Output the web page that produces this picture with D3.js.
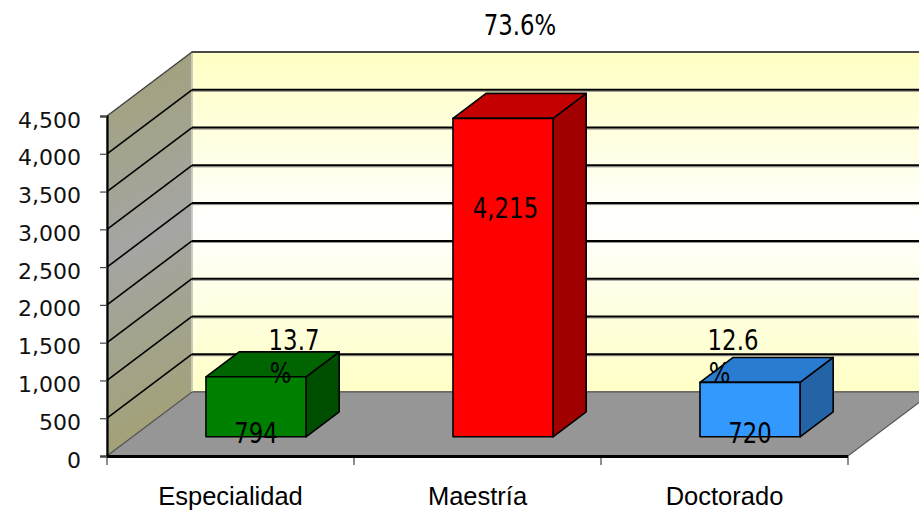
<!DOCTYPE html>
<html><head><meta charset="utf-8">
<script src="https://cdn.jsdelivr.net/npm/d3@7/dist/d3.min.js"></script>
<style>html,body{margin:0;padding:0;background:#fff;}svg{display:block;}</style>
</head><body>
<script>
// ---- data ----
const categories = ["Especialidad", "Maestría", "Doctorado"];
const values = [794, 4215, 720];
const valueLabels = ["794", "4,215", "720"];
const pctLabels = ["13.7 %", "73.6%", "12.6 %"];
const yTicks = [0, 500, 1000, 1500, 2000, 2500, 3000, 3500, 4000, 4500];

// ---- style / layout ----
const W = 919, H = 511;
const X0 = 107, X1 = 848, YB = 456, YT = 116;
const DX = 85, DY = -64;             // full depth offset
const F0 = 0.30, F1 = 0.69;          // bar depth position (fraction)
const faceColors = [
  {front: "#008000", top: "#006400", side: "#004f00"},
  {front: "#ff0000", top: "#c40000", side: "#a00000"},
  {front: "#3399ff", top: "#2a7bd2", side: "#2464a6"}
];
// percent label offsets relative to bar front top centre (style)
const pctOffset = [{dx: 38, dy: -27}, {dx: 17, dy: -83}, {dx: -17, dy: -32}];

const svg = d3.select("body").append("svg").attr("width", W).attr("height", H);
const defs = svg.append("defs");
const lw = defs.append("linearGradient").attr("id", "leftWall")
  .attr("x1", 0).attr("y1", 0).attr("x2", 0.1).attr("y2", 1);
lw.append("stop").attr("offset", "0%").attr("stop-color", "#a2a176");
lw.append("stop").attr("offset", "50%").attr("stop-color", "#a5a5a4");
lw.append("stop").attr("offset", "100%").attr("stop-color", "#a2a176");
const bw = defs.append("linearGradient").attr("id", "backWall")
  .attr("x1", 0).attr("y1", 0).attr("x2", 0).attr("y2", 1);
bw.append("stop").attr("offset", "0%").attr("stop-color", "#ffffc2");
bw.append("stop").attr("offset", "50%").attr("stop-color", "#ffffff");
bw.append("stop").attr("offset", "100%").attr("stop-color", "#ffffc6");

const x = d3.scaleBand().domain(categories).range([X0, X1]);
const y = d3.scaleLinear().domain([0, 4500]).range([YB, YT]);
const yMax = y(4500);

const pts = a => a.map(p => p.join(",")).join(" ");

// left wall
svg.append("polygon")
  .attr("points", pts([[X0, y(0)], [X0, yMax], [X0 + DX, yMax + DY], [X0 + DX, y(0) + DY]]))
  .attr("fill", "url(#leftWall)").attr("stroke", "#666").attr("stroke-width", 1);
// back wall
svg.append("polygon")
  .attr("points", pts([[X0 + DX, y(0) + DY], [X0 + DX, yMax + DY], [X1 + DX, yMax + DY], [X1 + DX, y(0) + DY]]))
  .attr("fill", "url(#backWall)").attr("stroke", "#555").attr("stroke-width", 1.5);
svg.append("line").attr("x1", X0 + DX).attr("x2", X0 + DX)
  .attr("y1", yMax + DY).attr("y2", y(0) + DY).attr("stroke", "#e8e8d8").attr("stroke-width", 1.5);
// floor
svg.append("polygon")
  .attr("points", pts([[X0, y(0)], [X1, y(0)], [X1 + DX, y(0) + DY], [X0 + DX, y(0) + DY]]))
  .attr("fill", "#969696").attr("stroke", "#555").attr("stroke-width", 1.2);

// gridlines
const gTicks = yTicks.filter(t => t > 0 && t < 4500);
svg.append("g").selectAll("line.bs").data(gTicks).join("line")
  .attr("x1", X0 + DX).attr("x2", X1 + DX)
  .attr("y1", d => y(d) + DY + 1.5).attr("y2", d => y(d) + DY + 1.5)
  .attr("stroke", "#888").attr("stroke-width", 1);
svg.append("g").selectAll("line.b").data(gTicks).join("line")
  .attr("x1", X0 + DX).attr("x2", X1 + DX)
  .attr("y1", d => y(d) + DY).attr("y2", d => y(d) + DY)
  .attr("stroke", "#000").attr("stroke-width", 2);
svg.append("g").selectAll("line.l").data(gTicks).join("line")
  .attr("x1", X0).attr("x2", X0 + DX)
  .attr("y1", d => y(d)).attr("y2", d => y(d) + DY)
  .attr("stroke", "#000").attr("stroke-width", 1.6);
// back wall top edge
svg.append("line").attr("x1", X0 + DX).attr("x2", X1 + DX)
  .attr("y1", yMax + DY).attr("y2", yMax + DY).attr("stroke", "#4a4a4a").attr("stroke-width", 2);
svg.append("line").attr("x1", X0).attr("x2", X0 + DX)
  .attr("y1", yMax).attr("y2", yMax + DY).attr("stroke", "#4a4a4a").attr("stroke-width", 1.5);

// bars
const barW = x.bandwidth() * 0.405;
const fx = F0 * DX, fy = F0 * DY, ddx = (F1 - F0) * DX, ddy = (F1 - F0) * DY;
const bars = svg.append("g").selectAll("g").data(categories).join("g");
bars.each(function (c, i) {
  const g = d3.select(this);
  const xl = x(c) + x.bandwidth() / 2 - barW / 2 + fx, xr = xl + barW;
  const yt = y(values[i]) + fy, yb = y(0) + fy;
  const col = faceColors[i];
  const st = {stroke: "#000", "stroke-width": 1.6, "stroke-linejoin": "round"};
  const add = (p, f) => { const e = g.append("polygon").attr("points", pts(p)).attr("fill", f); for (const k in st) e.attr(k, st[k]); };
  add([[xr, yt], [xr + ddx, yt + ddy], [xr + ddx, yb + ddy], [xr, yb]], col.side);
  add([[xl, yt], [xr, yt], [xr + ddx, yt + ddy], [xl + ddx, yt + ddy]], col.top);
  add([[xl, yt], [xr, yt], [xr, yb], [xl, yb]], col.front);
});

// axes
const yAxis = d3.axisLeft(y).tickValues(yTicks).tickFormat(d3.format(",")).tickSize(7).tickPadding(19);
const ya = svg.append("g").attr("transform", `translate(${X0},0)`).call(yAxis);
ya.select(".domain").attr("stroke", "#000").attr("stroke-width", 2.2);
ya.selectAll(".tick line").attr("stroke", "#444").attr("stroke-width", 1.2);
ya.selectAll(".tick text").attr("font-family", "DejaVu Sans").attr("font-size", 22)
  .attr("fill", "#111").attr("dy", "0.5em");

const bounds = categories.map(c => x(c)).concat([X1]);
svg.append("g").selectAll("line").data(bounds).join("line")
  .attr("x1", d => d).attr("x2", d => d).attr("y1", YB).attr("y2", YB + 9)
  .attr("stroke", "#444").attr("stroke-width", 1.2);
svg.append("line").attr("x1", X0).attr("x2", X1).attr("y1", YB + 0.5).attr("y2", YB + 0.5)
  .attr("stroke", "#000").attr("stroke-width", 3);
svg.append("g").selectAll("text").data(categories).join("text")
  .attr("x", d => x(d) + x.bandwidth() / 2).attr("y", 505)
  .attr("text-anchor", "middle").attr("font-family", "Liberation Sans, Arial")
  .attr("font-size", 25.5).attr("fill", "#000").text(d => d);

// labels (condensed look)
function label(tx, ty, txt) {
  svg.append("text").attr("transform", `translate(${tx},${ty}) scale(0.83,1)`)
    .attr("text-anchor", "middle").attr("font-family", "DejaVu Sans")
    .attr("font-size", 27.5).attr("fill", "#000").text(txt);
}
categories.forEach((c, i) => {
  const cx = x(c) + x.bandwidth() / 2 + fx;
  const yt = y(values[i]) + fy;
  // value label
  if (values[i] > 2000) label(cx + 2.5, y(values[i] / 2) + fy + 0.5 - 60, valueLabels[i]);
  else label(cx, y(0) + fy + 6, valueLabels[i]);
  // percent label
  const parts = pctLabels[i].split(" ");
  const px = cx + pctOffset[i].dx, py = yt + pctOffset[i].dy;
  label(px, py, parts[0]);
  if (parts[1]) label(px - 13.5, py + 33, parts[1]);
});
</script>
</body></html>
